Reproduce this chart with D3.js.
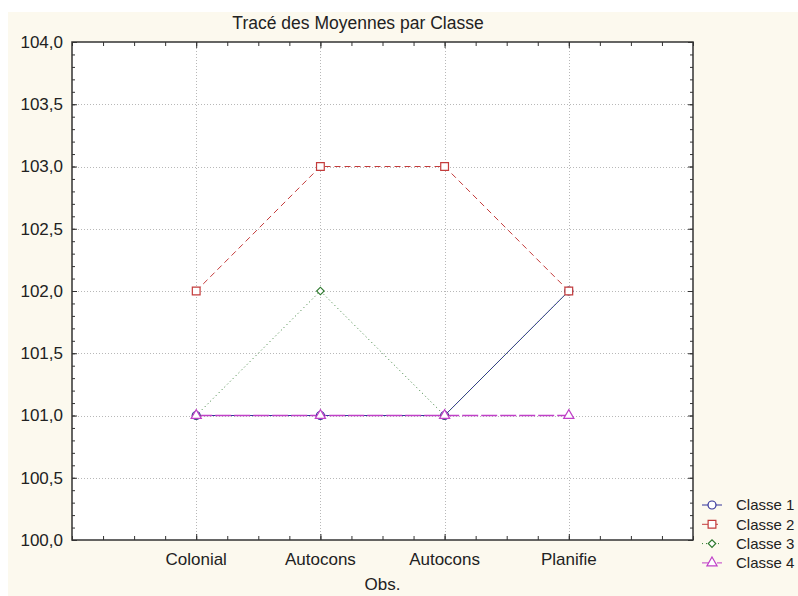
<!DOCTYPE html>
<html>
<head>
<meta charset="utf-8">
<script src="https://cdn.jsdelivr.net/npm/d3@7"></script>
<style>
  body { margin: 0; background: #fff; }
  text { font-family: "Liberation Sans", Arial, sans-serif; fill: #222; }
</style>
</head>
<body>
<svg id="chart" width="798" height="596"></svg>
<script>
// data
var categories = ['Colonial', 'Autocons', 'Autocons', 'Planifie']
var classe1 = [101, 101, 101, 102]
var classe2 = [102, 103, 103, 102]
var classe3 = [101, 102, 101, 102]
var classe4 = [101, 101, 101, 101]
var seriesNames = ['Classe 1', 'Classe 2', 'Classe 3', 'Classe 4']
var yTicks = [100, 100.5, 101, 101.5, 102, 102.5, 103, 103.5, 104]

var series = [
  { name: seriesNames[0], values: classe1, color: '#34349a', dash: null, marker: 'circle' },
  { name: seriesNames[1], values: classe2, color: '#c43c3c', dash: '6,4', marker: 'square' },
  { name: seriesNames[2], values: classe3, color: '#2f7a2f', dash: '1,3', marker: 'diamond' },
  { name: seriesNames[3], values: classe4, color: '#c040c8', dash: '16,3', marker: 'triangle' }
]
// markers drawn so that squares sit on top at Planifie, triangles at 101
var markerOrder = [0, 2, 1, 3]

var svg = d3.select('#chart')
var margin = { left: 72, right: 105, top: 42, bottom: 56 }
var W = 798, H = 596

// cream panel
svg.append('rect').attr('x', 8).attr('y', 12).attr('width', W - 8).attr('height', H - 12)
  .attr('fill', '#fcf9ee')

var x = d3.scaleLinear().domain([0, categories.length + 1]).range([margin.left, W - margin.right])
var y = d3.scaleLinear().domain([100, 104]).range([H - margin.bottom, margin.top])

var fmt = function(d) { return d3.format('.1f')(d).replace('.', ',') }

svg.append('rect')
  .attr('x', x(0)).attr('y', y(104))
  .attr('width', x(5) - x(0)).attr('height', y(100) - y(104))
  .attr('fill', '#fff')

// grid
var grid = svg.append('g').attr('stroke', '#b8b8b8').attr('stroke-dasharray', '1,2').attr('stroke-width', 1)
grid.selectAll('.hg').data(yTicks.slice(1, -1)).enter().append('line')
  .attr('x1', x(0)).attr('x2', x(5))
  .attr('y1', function(d) { return Math.round(y(d)) + 0.5 })
  .attr('y2', function(d) { return Math.round(y(d)) + 0.5 })
grid.selectAll('.vg').data(categories).enter().append('line')
  .attr('y1', y(104)).attr('y2', y(100))
  .attr('x1', function(d, i) { return Math.round(x(i + 1)) + 0.5 })
  .attr('x2', function(d, i) { return Math.round(x(i + 1)) + 0.5 })

// axes, ticks pointing inward
var yMinor = d3.range(100, 104.001, 0.1)
var xMinor = d3.range(0, 5.001, 0.25)

function styleAxis(g) {
  g.select('.domain').remove()
  g.selectAll('line').attr('stroke', '#333')
  g.selectAll('text').remove()
}

svg.append('g').attr('transform', 'translate(' + x(0) + ',0)')
  .call(d3.axisRight(y).tickValues(yMinor).tickSize(3)).call(styleAxis)
svg.append('g').attr('transform', 'translate(' + x(0) + ',0)')
  .call(d3.axisRight(y).tickValues(yTicks).tickSize(5)).call(styleAxis)
svg.append('g').attr('transform', 'translate(' + x(5) + ',0)')
  .call(d3.axisLeft(y).tickValues(yMinor).tickSize(3)).call(styleAxis)
svg.append('g').attr('transform', 'translate(' + x(5) + ',0)')
  .call(d3.axisLeft(y).tickValues(yTicks).tickSize(5)).call(styleAxis)
svg.append('g').attr('transform', 'translate(0,' + y(100) + ')')
  .call(d3.axisTop(x).tickValues(xMinor).tickSize(4)).call(styleAxis)
svg.append('g').attr('transform', 'translate(0,' + y(100) + ')')
  .call(d3.axisTop(x).tickValues([1, 2, 3, 4]).tickSize(6)).call(styleAxis)
svg.append('g').attr('transform', 'translate(0,' + y(104) + ')')
  .call(d3.axisBottom(x).tickValues(xMinor).tickSize(4)).call(styleAxis)
svg.append('g').attr('transform', 'translate(0,' + y(104) + ')')
  .call(d3.axisBottom(x).tickValues([1, 2, 3, 4]).tickSize(6)).call(styleAxis)

svg.append('rect')
  .attr('x', x(0)).attr('y', y(104))
  .attr('width', x(5) - x(0)).attr('height', y(100) - y(104))
  .attr('fill', 'none').attr('stroke', '#333').attr('stroke-width', 1.5)

// tick labels
svg.selectAll('.ylab').data(yTicks).enter().append('text')
  .attr('x', x(0) - 9).attr('y', function(d) { return y(d) })
  .attr('dy', '0.35em').attr('text-anchor', 'end').attr('font-size', 17)
  .text(fmt)
svg.selectAll('.xlab').data(categories).enter().append('text')
  .attr('x', function(d, i) { return x(i + 1) }).attr('y', 565)
  .attr('text-anchor', 'middle').attr('font-size', 17)
  .text(function(d) { return d })

svg.append('text').attr('x', (x(0) + x(5)) / 2).attr('y', 590)
  .attr('text-anchor', 'middle').attr('font-size', 17).text('Obs.')
svg.append('text').attr('x', 358).attr('y', 29)
  .attr('text-anchor', 'middle').attr('font-size', 17.5).text('Tracé des Moyennes par Classe')

// markers
var symbolType = {
  circle: d3.symbolCircle, square: d3.symbolSquare,
  diamond: d3.symbolSquare, triangle: d3.symbolTriangle
}
var symbolSize = { circle: 50, square: 60, diamond: 28, triangle: 45 }
function marker(sel, s) {
  sel.attr('d', d3.symbol().type(symbolType[s.marker]).size(symbolSize[s.marker]))
    .attr('fill', '#fff').attr('stroke', s.color).attr('stroke-width', 1.2)
}
function place(px, py, s) {
  return 'translate(' + px + ',' + py + ')' + (s.marker === 'diamond' ? ' rotate(45)' : '')
}

var line = d3.line()
  .x(function(d, i) { return x(i + 1) })
  .y(function(d) { return y(d) })

series.forEach(function(s) {
  svg.append('path').datum(s.values)
    .attr('d', line).attr('fill', 'none')
    .attr('stroke', s.color).attr('stroke-width', s.marker === 'triangle' ? 1.5 : 1)
    .attr('stroke-dasharray', s.dash)
})
markerOrder.forEach(function(k) {
  var s = series[k]
  svg.selectAll(null).data(s.values).enter().append('path')
    .attr('transform', function(d, i) { return place(x(i + 1), y(d), s) })
    .call(marker, s)
})

// legend
var legend = svg.append('g')
series.forEach(function(s, i) {
  var ly = 505 + i * 19.3
  legend.append('line').attr('x1', 702).attr('x2', 722).attr('y1', ly).attr('y2', ly)
    .attr('stroke', s.color).attr('stroke-dasharray', s.dash ? (s.marker === 'triangle' ? '12,3' : s.dash) : null)
  legend.append('path').attr('transform', place(712, ly, s)).call(marker, s)
  legend.append('text').attr('x', 736).attr('y', ly).attr('dy', '0.35em')
    .attr('font-size', 15).text(s.name)
})
</script>
</body>
</html>
